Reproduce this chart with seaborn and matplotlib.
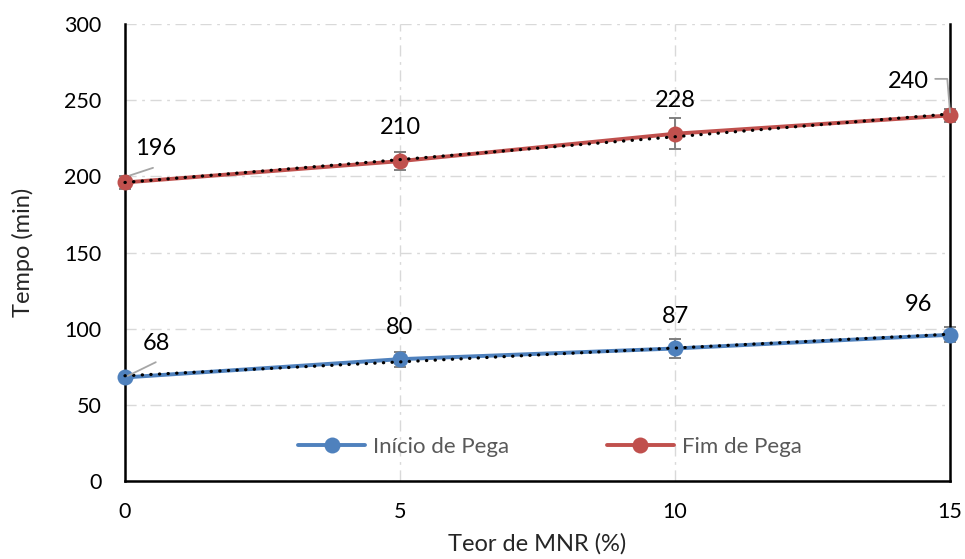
import numpy as np
import pandas as pd
import matplotlib
matplotlib.use("Agg")
import matplotlib.pyplot as plt
import seaborn as sns

# Data
teor = [0, 5, 10, 15]
inicio = [68, 80, 87, 96]
fim = [196, 210, 228, 240]
inicio_err = [2, 5, 6, 5]
fim_err = [4, 6, 10, 4]
series_names = ["Início de Pega", "Fim de Pega"]
colors = ["#4f81bd", "#c0504d"]
y_ticks = [0, 50, 100, 150, 200, 250, 300]
x_ticks = [0, 5, 10, 15]

df = pd.DataFrame({
    "Teor": teor * 2,
    "Tempo": inicio + fim,
    "Serie": [series_names[0]] * 4 + [series_names[1]] * 4,
})

sns.set_style("white")
plt.rcParams["font.family"] = ["Lato", "DejaVu Sans"]

fig = plt.figure(figsize=(9.65, 5.59), dpi=100)
ax = fig.add_axes([0.1295, 0.1395, 0.855, 0.8175])

# dash-dot grid behind the data
ax.set_axisbelow(True)
ax.grid(True, color="#d9d9d9", linestyle=(0, (8, 4, 2, 4)), linewidth=1.0)

# error bars
for vals, errs in [(inicio, inicio_err), (fim, fim_err)]:
    _, caps, bars = ax.errorbar(teor, vals, yerr=errs, fmt="none", ecolor="#7f7f7f",
                                elinewidth=1.4, capsize=4, capthick=1.4, zorder=2)
    for c in caps:
        c.set_clip_on(False)
    for b in bars:
        b.set_clip_on(False)

n_before = len(ax.lines)
sns.lineplot(data=df, x="Teor", y="Tempo", hue="Serie", palette=colors,
             marker="o", markersize=11.5, markeredgewidth=0, linewidth=2.8,
             ax=ax, zorder=3)
for ln in ax.lines[n_before:]:
    ln.set_clip_on(False)

# linear trend lines
for vals in (inicio, fim):
    coef = np.polyfit(teor, vals, 1)
    xs = np.array([teor[0], teor[-1]])
    ax.plot(xs, np.polyval(coef, xs), color="black", linestyle=(0, (0.1, 2.6)),
            linewidth=2.3, zorder=4, dash_capstyle="round", clip_on=False)

# data labels
label_offsets = {
    (0, 196): (0.55, 22.6), (5, 210): (0, 22), (10, 228): (0, 22), (15, 240): (-0.76, 22),
    (0, 68): (0.58, 22.6), (5, 80): (0, 21), (10, 87): (0, 21), (15, 96): (-0.58, 19.6),
}
for vals in (inicio, fim):
    for x, v in zip(teor, vals):
        dx, dy = label_offsets[(x, v)]
        ax.text(x + dx, v + dy, f"{v}", ha="center", va="center",
                fontsize=17, color="black", zorder=6)

# leader lines
ax.plot([0.09, 0.51], [200.6, 205.6], color="#a6a6a6", lw=1.3, zorder=5)
ax.plot([0.05, 0.56], [69, 78], color="#a6a6a6", lw=1.3, zorder=5)
ax.plot([14.73, 14.95, 15.0], [264, 264, 242], color="#a6a6a6", lw=1.3, zorder=5,
        clip_on=False)

ax.set_xlim(0, 15)
ax.set_ylim(0, 300)
ax.set_xticks(x_ticks)
ax.set_yticks(y_ticks)
ax.tick_params(axis="both", direction="inout", length=8, width=1.5,
               labelsize=15.5, colors="black")
ax.tick_params(axis="y", pad=13)
ax.tick_params(axis="x", pad=11)

for s in ["left", "bottom", "right"]:
    ax.spines[s].set_visible(True)
    ax.spines[s].set_color("black")
    ax.spines[s].set_linewidth(1.8)
ax.spines["top"].set_visible(False)

ax.set_xlabel("Teor de MNR (%)", fontsize=17, labelpad=8)
ax.set_ylabel("Tempo (min)", fontsize=17, labelpad=22)

leg = ax.legend(loc="center", bbox_to_anchor=(0.515, 0.074), ncol=2,
                frameon=False, fontsize=16, handlelength=3.0,
                columnspacing=4.4, handletextpad=0.36)
for t in leg.get_texts():
    t.set_color("#595959")

fig.savefig("out.png", dpi=100)
